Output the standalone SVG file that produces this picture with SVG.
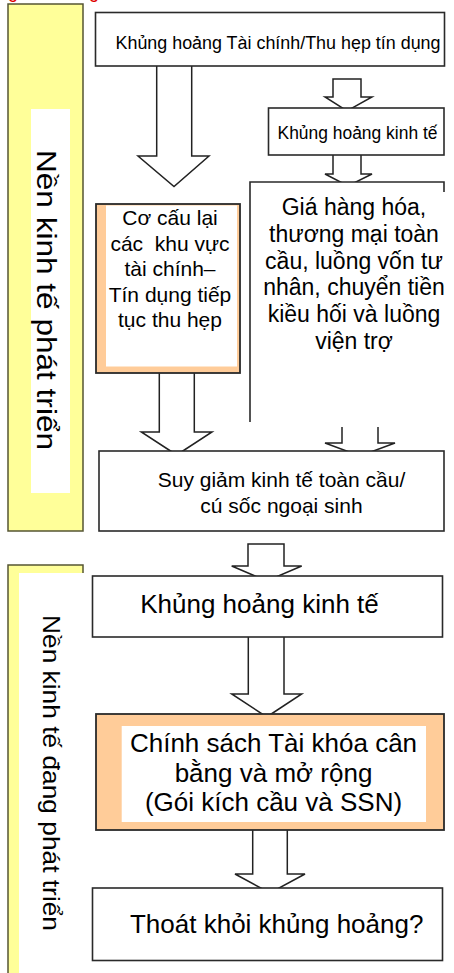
<svg xmlns="http://www.w3.org/2000/svg" width="454" height="973" viewBox="0 0 454 973">
<style>
text{font-family:"Liberation Sans",Arial,sans-serif;fill:#000}
.box{fill:#fff;stroke:#2a2a2a;stroke-width:1.6}
.obox{fill:#FFCC99;stroke:#2a2a2a;stroke-width:1.8}
.arr{fill:#fff;stroke:#222;stroke-width:1.5;stroke-linejoin:miter}
.panel{fill:#FFFF99;stroke:#555533;stroke-width:1.5}
.c{text-anchor:middle}
</style>
<rect width="454" height="973" fill="#fff"/>
<g id="top-fragments">
<text x="8" y="-2" font-size="18" style="fill:#e00000">g</text>
<text x="89" y="-2" font-size="18" style="fill:#e00000">g</text>
</g>
<g id="panel-developed">
<rect class="panel" x="8" y="4" width="75" height="527"/>
<rect x="31" y="109" width="39" height="384" fill="#fff"/>
<text class="c" transform="translate(37,300) rotate(90)" font-size="28" textLength="300" lengthAdjust="spacingAndGlyphs">Nền kinh tế phát triển</text>
</g>
<g id="panel-developing">
<rect class="panel" x="8" y="565" width="75" height="420"/>
<rect x="19" y="573" width="65" height="412" fill="#fff"/>
<text class="c" transform="translate(43,773) rotate(90)" font-size="24" textLength="316" lengthAdjust="spacingAndGlyphs">Nền kinh tế đang phát triển</text>
</g>
<g id="connectors">
<path class="arr" d="M156.7,60 H191.7 V156 H209 L174,186.5 L138,156 H156.7 Z"/>
<path class="arr" d="M333,79 H361 V97 H372 L347,111 L325,97 H333 Z"/>
<path class="arr" d="M333,150 H361 V174 H372 L348,186 L325,174 H333 Z"/>
<path class="arr" d="M159.3,368 H194.3 V432 H212 L176.7,455 L141.3,432 H159.3 Z"/>
<path class="arr" d="M342,418 H378 V443 H395 L360,456 L325,443 H342 Z"/>
<path class="arr" d="M248,544 H284 V566 H301.7 L266.7,581 L231.7,566 H248 Z"/>
<path class="arr" d="M248.3,630 H284 V694 H301.7 L266.7,717 L231.7,694 H248.3 Z"/>
<path class="arr" d="M252.7,825 H287.3 V874 H305 L270,893 L235,874 H252.7 Z"/>
</g>
<g id="node-financial-crisis">
<rect class="box" x="95.5" y="12.5" width="349" height="53.5"/>
<text class="c" x="278" y="49" font-size="18" textLength="325" lengthAdjust="spacingAndGlyphs">Khủng hoảng Tài chính/Thu hẹp tín dụng</text>
</g>
<g id="node-economic-crisis-1">
<rect class="box" x="268.5" y="108" width="175.5" height="47"/>
<text class="c" x="357.5" y="139" font-size="17.5" textLength="160" lengthAdjust="spacingAndGlyphs">Khủng hoảng kinh tế</text>
</g>
<g id="node-commodity-prices">
<rect x="250" y="182" width="194" height="245" fill="#fff"/>
<path d="M250,422 V182 H444 V192" fill="none" stroke="#2a2a2a" stroke-width="1.6"/>
<g font-size="23">
<text class="c" x="354" y="215">Giá hàng hóa,</text>
<text class="c" x="354" y="241.8">thương mại toàn</text>
<text class="c" x="354" y="268.6">cầu, luồng vốn tư</text>
<text class="c" x="354" y="295.4">nhân, chuyển tiền</text>
<text class="c" x="354" y="322.2">kiều hối và luồng</text>
<text class="c" x="354" y="349">viện trợ</text>
</g>
</g>
<g id="node-restructuring">
<rect class="obox" x="96" y="204" width="144" height="169"/>
<rect x="106" y="205.5" width="131" height="161" fill="#fff"/>
<g font-size="21">
<text class="c" x="170" y="225">Cơ cấu lại</text>
<text class="c" x="170" y="250.5" xml:space="preserve">các  khu vực</text>
<text class="c" x="170" y="276">tài chính–</text>
<text class="c" x="170" y="301.5">Tín dụng tiếp</text>
<text class="c" x="170" y="327">tục thu hẹp</text>
</g>
</g>
<g id="node-global-recession">
<rect class="box" x="99" y="451" width="345" height="80"/>
<text class="c" x="281.5" y="487" font-size="21">Suy giảm kinh tế toàn cầu/</text>
<text class="c" x="281.5" y="513" font-size="21">cú sốc ngoại sinh</text>
</g>
<g id="node-economic-crisis-2">
<rect class="box" x="92.5" y="576" width="350" height="61"/>
<text class="c" x="259.5" y="613" font-size="26">Khủng hoảng kinh tế</text>
</g>
<g id="node-fiscal-policy">
<rect class="obox" x="96" y="714" width="348" height="116"/>
<rect x="121.7" y="726" width="304.3" height="96" fill="#fff"/>
<text class="c" x="273.5" y="752" font-size="26">Chính sách Tài khóa cân</text>
<text class="c" x="273.5" y="781.5" font-size="26">bằng và mở rộng</text>
<text class="c" x="273.5" y="811" font-size="26">(Gói kích cầu và SSN)</text>
</g>
<g id="node-exit-crisis">
<rect class="box" x="92.5" y="888" width="350" height="72.5"/>
<text class="c" x="276.7" y="933" font-size="26">Thoát khỏi khủng hoảng?</text>
</g>
</svg>
